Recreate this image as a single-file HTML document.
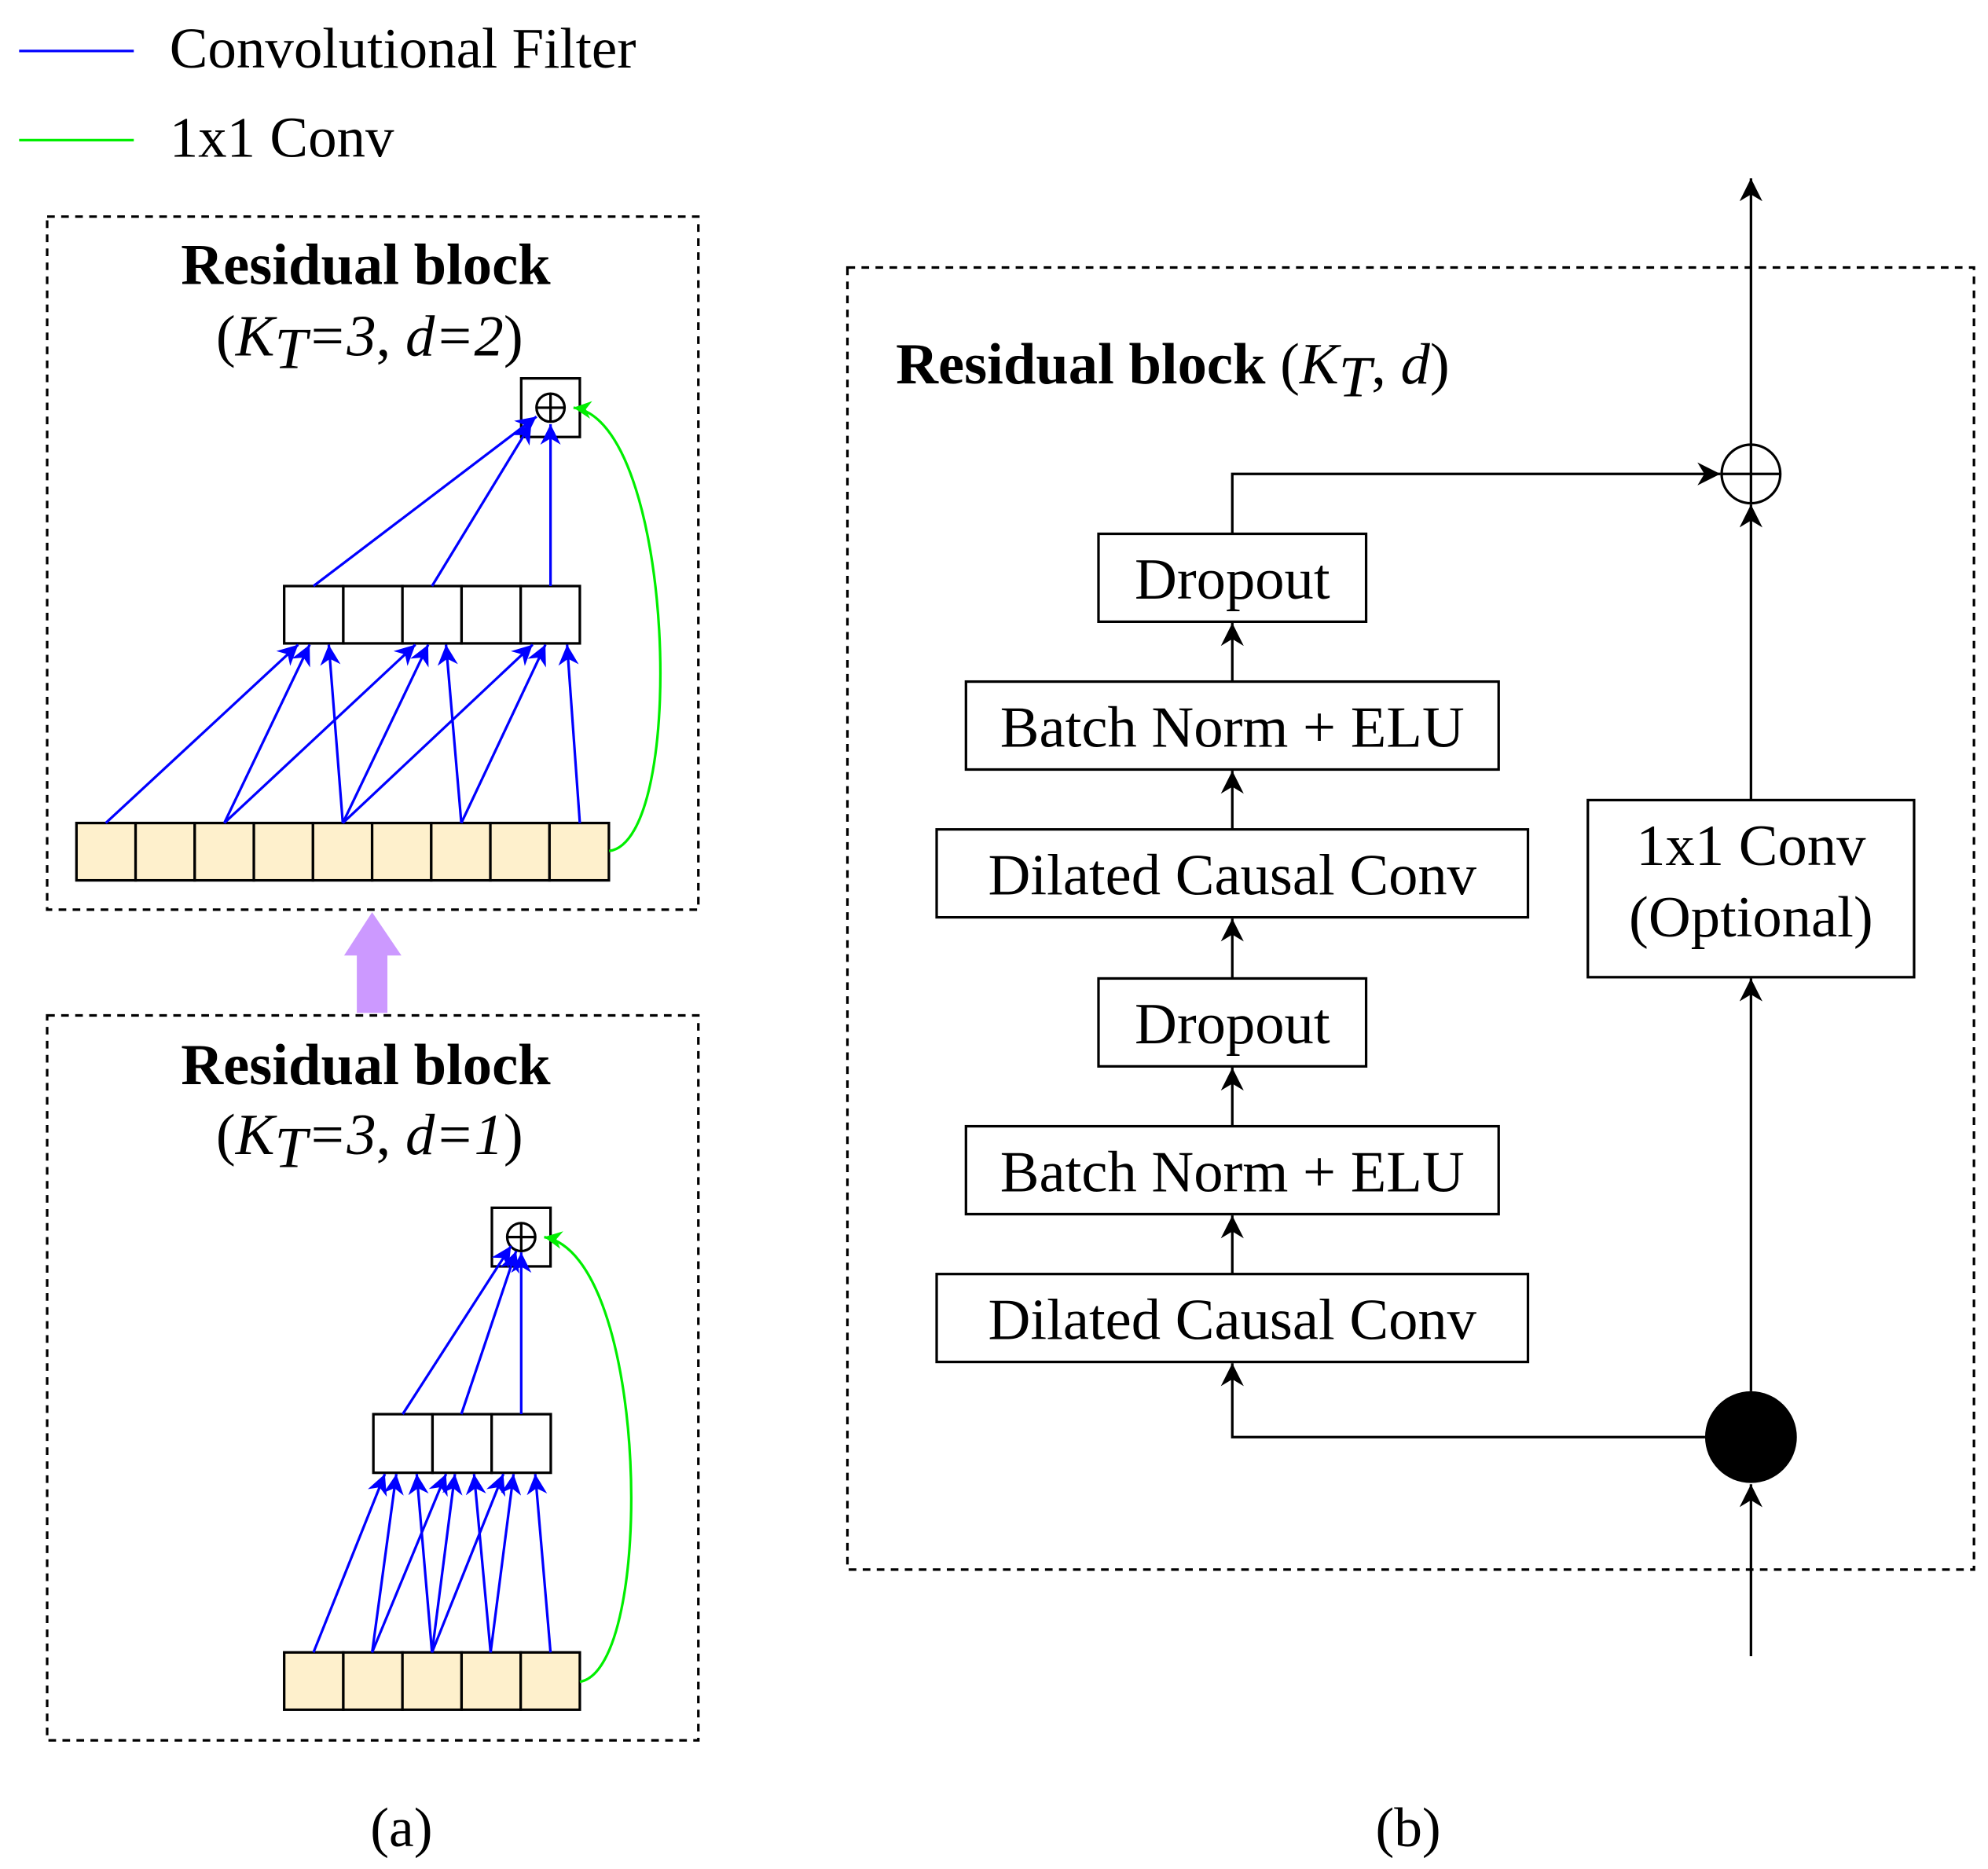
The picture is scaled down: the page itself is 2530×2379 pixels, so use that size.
<!DOCTYPE html>
<html><head><meta charset="utf-8"><style>
html,body{margin:0;padding:0;background:#fff;}
svg{display:block;}
text{font-family:"Liberation Serif",serif;}
</style></head><body>
<svg width="2530" height="2379" viewBox="0 0 1560 1467" preserveAspectRatio="none" xmlns="http://www.w3.org/2000/svg">
<defs>
<marker id="ab" viewBox="0 0 10 10" refX="10" refY="5" markerWidth="16" markerHeight="16" markerUnits="userSpaceOnUse" orient="auto"><path d="M0,0 L10,5 L0,10 L3,5 z" fill="#0000ff"/></marker>
<marker id="ag" viewBox="0 0 10 10" refX="10" refY="5" markerWidth="14" markerHeight="14" markerUnits="userSpaceOnUse" orient="auto"><path d="M0,0 L10,5 L0,10 L3,5 z" fill="#00ee00"/></marker>
<marker id="ak" viewBox="0 0 10 10" refX="10" refY="5" markerWidth="18" markerHeight="18" markerUnits="userSpaceOnUse" orient="auto"><path d="M0,0 L10,5 L0,10 L3,5 z" fill="#000"/></marker>
</defs>
<rect width="1560" height="1467" fill="#fff"/>
<line x1="15" y1="40" x2="105" y2="40" stroke="#0000ff" stroke-width="2"/>
<text x="133" y="53" font-size="45">Convolutional Filter</text>
<line x1="15" y1="110" x2="105" y2="110" stroke="#00ee00" stroke-width="2"/>
<text x="133" y="123" font-size="45">1x1 Conv</text>

<rect x="37" y="170" width="511" height="544" fill="none" stroke="#000" stroke-width="2" stroke-dasharray="6,5"/>
<text x="287" y="223" font-size="46" font-weight="bold" text-anchor="middle">Residual block</text>
<text x="290" y="279" font-size="46" text-anchor="middle">(<tspan font-style="italic">K</tspan><tspan font-style="italic" dy="10">T</tspan><tspan dy="-10" font-style="italic">=3</tspan>, <tspan font-style="italic">d=2</tspan>)</text>
<rect x="409" y="297" width="46" height="46" fill="#fff" stroke="#000" stroke-width="2"/>
<circle cx="432" cy="320" r="11" fill="none" stroke="#000" stroke-width="2"/>
<line x1="421" y1="320" x2="443" y2="320" stroke="#000" stroke-width="2"/><line x1="432" y1="309" x2="432" y2="331" stroke="#000" stroke-width="2"/>
<g fill="#fff" stroke="#000" stroke-width="2">
<rect x="223" y="460" width="46.4" height="45"/><rect x="269.4" y="460" width="46.4" height="45"/><rect x="315.8" y="460" width="46.4" height="45"/><rect x="362.2" y="460" width="46.4" height="45"/><rect x="408.6" y="460" width="46.4" height="45"/>
</g>
<g fill="#fef0cc" stroke="#000" stroke-width="2">
<rect x="60" y="646" width="46.4" height="45"/><rect x="106.4" y="646" width="46.4" height="45"/><rect x="152.8" y="646" width="46.4" height="45"/><rect x="199.2" y="646" width="46.4" height="45"/><rect x="245.6" y="646" width="46.4" height="45"/><rect x="292" y="646" width="46.4" height="45"/><rect x="338.4" y="646" width="46.4" height="45"/><rect x="384.8" y="646" width="46.4" height="45"/><rect x="431.2" y="646" width="46.6" height="45"/>
</g>
<g stroke="#0000ff" stroke-width="2" fill="none" marker-end="url(#ab)">
<line x1="83" y1="646" x2="234" y2="506"/>
<line x1="176" y1="646" x2="243" y2="506"/>
<line x1="269" y1="646" x2="258" y2="506"/>
<line x1="176" y1="646" x2="326" y2="506"/>
<line x1="269" y1="646" x2="336" y2="506"/>
<line x1="362" y1="646" x2="350" y2="506"/>
<line x1="269" y1="646" x2="418" y2="506"/>
<line x1="362" y1="646" x2="428" y2="506"/>
<line x1="455" y1="646" x2="445" y2="506"/>
<line x1="246" y1="460" x2="421" y2="327"/>
<line x1="339" y1="460" x2="417" y2="332"/>
<line x1="432" y1="460" x2="432" y2="333"/>
</g>
<path d="M478,668 C540,660 530,330 450,320" fill="none" stroke="#00ee00" stroke-width="2" marker-end="url(#ag)"/>

<path d="M280,795 L280,750 L270,750 L292,716 L315,750 L304,750 L304,795 z" fill="#cc99ff"/>

<rect x="37" y="797" width="511" height="569" fill="none" stroke="#000" stroke-width="2" stroke-dasharray="6,5"/>
<text x="287" y="851" font-size="46" font-weight="bold" text-anchor="middle">Residual block</text>
<text x="290" y="906" font-size="46" text-anchor="middle">(<tspan font-style="italic">K</tspan><tspan font-style="italic" dy="10">T</tspan><tspan dy="-10" font-style="italic">=3</tspan>, <tspan font-style="italic">d=1</tspan>)</text>
<rect x="386" y="948" width="46" height="46" fill="#fff" stroke="#000" stroke-width="2"/>
<circle cx="409" cy="971" r="11" fill="none" stroke="#000" stroke-width="2"/>
<line x1="398" y1="971" x2="420" y2="971" stroke="#000" stroke-width="2"/><line x1="409" y1="960" x2="409" y2="982" stroke="#000" stroke-width="2"/>
<g fill="#fff" stroke="#000" stroke-width="2">
<rect x="293" y="1110" width="46.4" height="46"/><rect x="339.4" y="1110" width="46.4" height="46"/><rect x="385.8" y="1110" width="46.4" height="46"/>
</g>
<g fill="#fef0cc" stroke="#000" stroke-width="2">
<rect x="223" y="1297" width="46.4" height="45"/><rect x="269.4" y="1297" width="46.4" height="45"/><rect x="315.8" y="1297" width="46.4" height="45"/><rect x="362.2" y="1297" width="46.4" height="45"/><rect x="408.6" y="1297" width="46.4" height="45"/>
</g>
<g stroke="#0000ff" stroke-width="2" fill="none" marker-end="url(#ab)">
<line x1="246" y1="1297" x2="302" y2="1157"/>
<line x1="292" y1="1297" x2="311" y2="1157"/>
<line x1="339" y1="1297" x2="327" y2="1157"/>
<line x1="292" y1="1297" x2="350" y2="1157"/>
<line x1="339" y1="1297" x2="357" y2="1157"/>
<line x1="385" y1="1297" x2="372" y2="1157"/>
<line x1="339" y1="1297" x2="395" y2="1157"/>
<line x1="385" y1="1297" x2="403" y2="1157"/>
<line x1="432" y1="1297" x2="420" y2="1157"/>
<line x1="316" y1="1110" x2="401" y2="978"/>
<line x1="362" y1="1110" x2="405" y2="982"/>
<line x1="409" y1="1110" x2="409" y2="983"/>
</g>
<path d="M455,1320 C515,1310 510,985 427,971" fill="none" stroke="#00ee00" stroke-width="2" marker-end="url(#ag)"/>

<text x="315" y="1449" font-size="44" text-anchor="middle">(a)</text>
<text x="1105" y="1449" font-size="44" text-anchor="middle">(b)</text>

<rect x="665" y="210" width="884" height="1022" fill="none" stroke="#000" stroke-width="2" stroke-dasharray="6,5"/>
<text x="703" y="301" font-size="46"><tspan font-weight="bold">Residual block</tspan> (<tspan font-style="italic">K</tspan><tspan font-style="italic" dy="10">T</tspan><tspan dy="-10">, </tspan><tspan font-style="italic">d</tspan>)</text>
<g fill="#fff" stroke="#000" stroke-width="2">
<rect x="862" y="419" width="210" height="69"/>
<rect x="758" y="535" width="418" height="69"/>
<rect x="735" y="651" width="464" height="69"/>
<rect x="862" y="768" width="210" height="69"/>
<rect x="758" y="884" width="418" height="69"/>
<rect x="735" y="1000" width="464" height="69"/>
<rect x="1246" y="628" width="256" height="139"/>
</g>
<g font-size="46" text-anchor="middle">
<text x="967" y="470">Dropout</text>
<text x="967" y="586">Batch Norm + ELU</text>
<text x="967" y="702">Dilated Causal Conv</text>
<text x="967" y="819">Dropout</text>
<text x="967" y="935">Batch Norm + ELU</text>
<text x="967" y="1051">Dilated Causal Conv</text>
<text x="1374" y="679">1x1 Conv</text>
<text x="1374" y="735">(Optional)</text>
</g>
<g stroke="#000" stroke-width="2" fill="none" marker-end="url(#ak)">
<line x1="967" y1="535" x2="967" y2="489"/>
<line x1="967" y1="651" x2="967" y2="605"/>
<line x1="967" y1="768" x2="967" y2="721"/>
<line x1="967" y1="884" x2="967" y2="838"/>
<line x1="967" y1="1000" x2="967" y2="954"/>
<polyline points="1338,1128 967,1128 967,1070"/>
<line x1="1374" y1="1300" x2="1374" y2="1165"/>
<line x1="1374" y1="1092" x2="1374" y2="768"/>
<line x1="1374" y1="628" x2="1374" y2="396"/>
<line x1="1374" y1="349" x2="1374" y2="140"/>
<polyline points="967,419 967,372 1350,372"/>
</g>
<circle cx="1374" cy="1128" r="36" fill="#000"/>
<circle cx="1374" cy="372" r="23" fill="#fff" stroke="#000" stroke-width="2"/>
<line x1="1351" y1="372" x2="1397" y2="372" stroke="#000" stroke-width="2"/>
<line x1="1374" y1="349" x2="1374" y2="395" stroke="#000" stroke-width="2"/>
</svg>
</body></html>
